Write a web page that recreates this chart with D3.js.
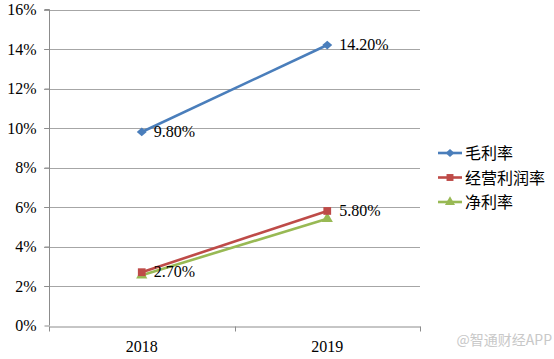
<!DOCTYPE html>
<html><head><meta charset="utf-8">
<script src="https://cdn.jsdelivr.net/npm/d3@7"></script>
<style>body{margin:0;background:#fff}svg{display:block}
.serif{font-family:"Liberation Serif","Times New Roman","DejaVu Serif",serif !important}</style>
</head><body>
<script>
const categories = ["2018", "2019"];
const seriesNames = ["毛利率", "经营利润率", "净利率"];
const grossMargin = [9.8, 14.2];
const operatingMargin = [2.7, 5.8];
const netMargin = [2.55, 5.4];
const yTicks = [0, 2, 4, 6, 8, 10, 12, 14, 16];
const labelsShown = [[true, true], [true, true], [false, false]];

const W = 554, H = 359;
const margin = {left: 49, right: 134, top: 9.5, bottom: 33.5};
const svg = d3.select("body").append("svg").attr("width", W).attr("height", H);
const x = d3.scaleBand().domain(categories).range([margin.left, W - margin.right]);
const y = d3.scaleLinear().domain([0, 16]).range([H - margin.bottom, margin.top]);

const diamond = {draw(ctx, size) { const w = Math.sqrt(size) * 0.62, h = Math.sqrt(size) * 0.55;
  ctx.moveTo(0, -h); ctx.lineTo(w, 0); ctx.lineTo(0, h); ctx.lineTo(-w, 0); ctx.closePath(); }};

const series = [
  {name: seriesNames[0], values: grossMargin, color: "#4a7ebb", shape: diamond, size: 64},
  {name: seriesNames[1], values: operatingMargin, color: "#be4b48", shape: d3.symbolSquare, size: 60},
  {name: seriesNames[2], values: netMargin, color: "#98b954", shape: d3.symbolTriangle, size: 55}
];

// gridlines
svg.append("g").selectAll("line").data(yTicks.filter(d => d > 0)).join("line")
  .attr("x1", margin.left - 5).attr("x2", W - margin.right)
  .attr("y1", d => Math.round(y(d)) + 0.5).attr("y2", d => Math.round(y(d)) + 0.5)
  .attr("stroke", "#a6a6a6").attr("stroke-width", 1);

// y axis
const yAxis = svg.append("g").attr("transform", `translate(${margin.left + 0.5},0)`)
  .call(d3.axisLeft(y).tickValues(yTicks).tickFormat(d => d + "%").tickSize(5).tickPadding(8));
yAxis.attr("font-family", null);
yAxis.select(".domain").attr("stroke", "#8c8c8c").attr("d", `M-5,${y(16)}H0V${y(0)}`);
yAxis.selectAll(".tick line").attr("stroke", "#8c8c8c");
yAxis.selectAll(".tick text").attr("class", "serif").attr("font-size", 16).attr("fill", "#000");

// x axis
const xAxis = svg.append("g").attr("transform", `translate(0,${Math.round(y(0)) + 0.5})`)
  .call(d3.axisBottom(x).tickSize(0).tickPadding(14));
xAxis.attr("font-family", null);
xAxis.select(".domain").attr("stroke", "#8c8c8c");
xAxis.selectAll(".tick text").attr("class", "serif").attr("font-size", 16).attr("fill", "#000");
const bounds = [margin.left, ...categories.map(c => x(c) + x.bandwidth())];
xAxis.selectAll(".bt").data(bounds).join("line").attr("class", "bt")
  .attr("x1", d => Math.round(d) + 0.5).attr("x2", d => Math.round(d) + 0.5)
  .attr("y1", 0).attr("y2", 5).attr("stroke", "#8c8c8c");

const cx = c => x(c) + x.bandwidth() / 2;
const line = d3.line().x((d, i) => cx(categories[i])).y(d => y(d));

series.slice().reverse().forEach(s => {
  svg.append("path").attr("d", line(s.values)).attr("fill", "none")
    .attr("stroke", s.color).attr("stroke-width", 2.6);
});
series.slice().reverse().forEach(s => {
  svg.append("g").selectAll("path").data(s.values).join("path")
    .attr("transform", (d, i) => `translate(${cx(categories[i])},${y(d)})`)
    .attr("d", d3.symbol().type(s.shape).size(s.size)).attr("fill", s.color);
});

// data labels
series.forEach((s, si) => {
  s.values.forEach((v, i) => {
    if (!labelsShown[si][i]) return;
    svg.append("text").attr("class", "serif").attr("x", cx(categories[i]) + 12).attr("y", y(v) + 5)
      .attr("font-size", 16).attr("fill", "#000")
      .text(v.toFixed(2) + "%");
  });
});

// legend
const lg = svg.append("g").attr("transform", "translate(438,153)");
series.forEach((s, i) => {
  const g = lg.append("g").attr("transform", `translate(0,${i * 24.5})`);
  g.append("line").attr("x1", 0).attr("x2", 24).attr("y1", 0).attr("y2", 0)
    .attr("stroke", s.color).attr("stroke-width", 2.6);
  g.append("path").attr("transform", "translate(12,0)")
    .attr("d", d3.symbol().type(s.shape).size(s.size * 0.8)).attr("fill", s.color);
  g.append("text").attr("x", 27).attr("y", 6)
    .attr("font-family", "Noto Sans CJK SC").attr("font-size", 16).attr("fill", "#000").text(s.name);
});

// watermark
svg.append("text").attr("x", 552).attr("y", 345).attr("text-anchor", "end")
  .attr("font-family", "Noto Sans CJK SC").attr("font-size", 14).attr("fill", "#c8c8c8").text("@智通财经APP");
</script>
</body></html>
